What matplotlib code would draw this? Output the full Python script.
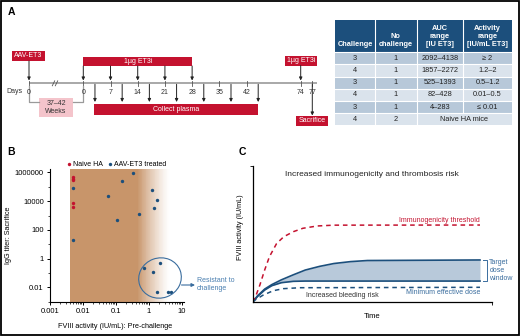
import matplotlib
matplotlib.use('Agg')
import matplotlib.pyplot as plt
import numpy as np
from matplotlib.patches import Rectangle, Ellipse
from matplotlib.ticker import NullFormatter

plt.rcParams['font.family'] = ['Liberation Sans', 'DejaVu Sans']

RED = '#c4122f'
BLUE = '#1c4f7c'
MIDBLUE = '#3a6d9e'
BROWN = '#c8956a'
GRAY = '#9a9a9a'

# ---- panel A: timeline (days) ----
tick_days = [0, 7, 14, 21, 28, 35, 42, 74, 77]
et3i_days = [0, 7, 14, 21, 28]
boost_day = 74
plasma_days = [3, 10, 17, 24, 31, 38, 45]
sacrifice_day = 77

# ---- panel A: table ----
col_heads = ['Challenge', 'No\nchallenge', 'AUC\nrange\n[IU ET3]', 'Activity\nrange\n[IU/mL ET3]']
challenge = ['3', '4', '3', '4', '3', '4']
no_challenge = ['1', '1', '1', '1', '1', '2']
auc_range = ['2092–4138', '1857–2272', '525–1393', '82–428', '4–283']
activity_range = ['≥ 2', '1.2–2', '0.5–1.2', '0.01–0.5', '≤ 0.01']
naive_label = 'Naive HA mice'

# ---- panel B ----
naive_x = [0.005, 0.005, 0.005, 0.005, 0.005]
naive_y = [4.8e5, 3.7e5, 2.8e5, 7.9e3, 4.0e3]
treated_x = [0.005, 0.005, 0.058, 0.15, 0.33, 0.105, 0.51, 1.2, 1.78, 1.45,
             0.71, 2.2, 1.35, 1.7, 3.8, 4.6]
treated_y = [8.8e4, 19, 2.2e4, 2.4e5, 9.1e5, 520, 1.2e3, 5.7e4, 1.3e4, 3.6e3,
             0.23, 0.47, 0.11, 0.005, 0.005, 0.005]

# ---- panel C (schematic curves) ----
thr_t = [0, 0.01, 0.03, 0.05, 0.07, 0.10, 0.13, 0.17, 0.21, 0.27, 0.34, 0.951]
thr_v = [0, 0.03, 0.125, 0.235, 0.333, 0.43, 0.48, 0.517, 0.542, 0.559, 0.565, 0.566]
win_t = [0, 0.02, 0.05, 0.08, 0.12, 0.17, 0.22, 0.28, 0.34, 0.41, 0.48, 0.951]
win_hi = [0, 0.045, 0.095, 0.128, 0.163, 0.2, 0.235, 0.262, 0.283, 0.297, 0.305, 0.309]
win_lo = [0, 0.04, 0.088, 0.12, 0.142, 0.152, 0.154, 0.154, 0.154, 0.154, 0.154, 0.154]
med_t = [0, 0.01, 0.044, 0.086, 0.128, 0.198, 0.951]
med_v = [0, 0.015, 0.051, 0.083, 0.098, 0.105, 0.108]


def day_x(d):
    # schematic timeline: evenly spaced up to day 45, compressed after
    return np.interp(d, [0, 45, 74, 77], [83.3, 258.2, 300.7, 312.3])


fig = plt.figure(figsize=(5.2, 3.36), dpi=100)

# ================= panel B =================
axB = fig.add_axes([50 / 520, 1 - 301.7 / 336, 134 / 520, 132.7 / 336])
axB.set_facecolor('none')
axB.set_xscale('log')
axB.set_yscale('log')
axB.set_xlim(1e-3, 11.5)
axB.set_ylim(1e-3, 1.74e6)
axB.axvspan(0.0041, 0.45, color=BROWN, lw=0, zorder=0)
edges = np.logspace(np.log10(0.45), np.log10(4.3), 41)
for i in range(40):
    t = (i + 0.5) / 40
    axB.axvspan(edges[i], edges[i + 1], color=BROWN, alpha=(1 - t) ** 1.3, lw=0, zorder=0)
axB.scatter(naive_x, naive_y, s=6, color=RED, lw=0, label='Naive HA', zorder=3)
axB.scatter(treated_x, treated_y, s=6, color=BLUE, lw=0, label='AAV-ET3 treated', zorder=3)
for s in ['top', 'right']:
    axB.spines[s].set_visible(False)
for s in ['left', 'bottom']:
    axB.spines[s].set_linewidth(0.8)
axB.set_xticks([1e-3, 1e-2, 1e-1, 1, 10], ['0.001', '0.01', '0.1', '1', '10'])
axB.set_xticks([m * 10.0 ** e for e in range(-3, 1) for m in range(2, 10)], minor=True)
axB.set_yticks([1e-2, 1, 1e2, 1e4, 1e6], ['0.01', '1', '100', '10000', '1000000'])
axB.set_yticks([1e-3, 1e-1, 10, 1e3, 1e5], minor=True)
axB.xaxis.set_minor_formatter(NullFormatter())
axB.yaxis.set_minor_formatter(NullFormatter())
axB.tick_params(which='major', labelsize=5.5, length=2.5, width=0.7, pad=2)
axB.tick_params(which='minor', length=1.5, width=0.5)
axB.set_xlabel('FVIII activity (IU/mL): Pre-challenge', fontsize=5.2)
axB.xaxis.set_label_coords(0.485, -0.16)
axB.set_ylabel('IgG titer: Sacrifice', fontsize=5.2)
axB.yaxis.set_label_coords(-0.284, 0.5)
axB.legend(loc='center left', bbox_to_anchor=(0.13, 1.036), ncol=2, frameon=False,
           fontsize=5, handlelength=0.5, handletextpad=0.3, columnspacing=0.8,
           borderpad=0, borderaxespad=0, scatterpoints=1)

# ================= panel C =================
axC = fig.add_axes([252.7 / 520, 1 - 302 / 336, 239 / 520, 136 / 336])
axC.set_facecolor('none')
axC.set_xlim(0, 1)
axC.set_ylim(0, 1)
axC.fill_between(win_t, win_lo, win_hi, color='#b8c9da', lw=0)
axC.plot(win_t, win_hi, color=BLUE, lw=1.2)
axC.plot(win_t, win_lo, color=BLUE, lw=1.2)
axC.plot(thr_t, thr_v, color=RED, lw=1.1, ls=(0, (3, 2.5)))
axC.plot(med_t, med_v, color=BLUE, lw=1.1, ls=(0, (3, 2.5)))
for s in ['top', 'right']:
    axC.spines[s].set_visible(False)
for s in ['left', 'bottom']:
    axC.spines[s].set_linewidth(0.9)
axC.set_xticks([1.0], [''])
axC.set_yticks([1.0], [''])
axC.tick_params(length=2, width=0.6)
axC.set_xlabel('Time', fontsize=5.5)
axC.xaxis.set_label_coords(0.498, -0.079)
axC.set_ylabel('FVIII activity (IU/mL)', fontsize=5.2)
axC.yaxis.set_label_coords(-0.036, 0.55)
axC.text(0.498, 0.94, 'Increased immunogenicity and thrombosis risk', transform=axC.transAxes,
         ha='center', va='center', fontsize=6, color='#222222')
axC.text(0.951, 0.6, 'Immunogenicity threshold', ha='right', va='center', fontsize=5, color=RED)
axC.text(0.951, 0.07, 'Minimum effective dose', ha='right', va='center', fontsize=5, color=MIDBLUE)
axC.text(0.373, 0.045, 'Increased bleeding risk', ha='center', va='center', fontsize=5, color='#333333')
axC.plot([0.962, 0.980, 0.980, 0.962], [0.309, 0.309, 0.154, 0.154], color=MIDBLUE, lw=0.7, clip_on=False)
axC.text(0.99, 0.232, 'Target\ndose\nwindow', ha='left', va='center', fontsize=5,
         color=MIDBLUE, linespacing=1.15, clip_on=False)

# ================= overlay (panel A + annotations), pixel coords =================
ov = fig.add_axes([0, 0, 1, 1])
ov.set_xlim(0, 520)
ov.set_ylim(336, 0)
ov.axis('off')
ov.set_facecolor('none')
ov.set_zorder(5)

ov.add_patch(Rectangle((0.6, 0.6), 518.8, 334.8, fill=False, ec='black', lw=1.3))

for lab, x, y in [('A', 7.5, 12), ('B', 7.5, 152), ('C', 239, 152)]:
    ov.text(x, y, lab, fontsize=7.5, fontweight='bold', ha='left', va='center')

# timeline
TL = 83.3
ov.plot([29, 316.5], [TL, TL], color=GRAY, lw=1.2, solid_capstyle='butt')
for xb in [53.5, 56.5]:
    ov.plot([xb - 1.2, xb + 1.2], [TL + 2.5, TL - 2.5], color='#555555', lw=0.6)
ov.plot([29, 29], [TL - 2.5, TL + 2.5], color='#555555', lw=0.6)
ov.text(29, 92, '0', ha='center', va='center', fontsize=5, color='#333333')
for d in tick_days:
    x = day_x(d)
    ov.plot([x, x], [TL - 2.5, TL + 2.5], color='#555555', lw=0.6)
    ov.text(x, 92, str(d), ha='center', va='center', fontsize=5, color='#333333')
ov.text(14.5, 91.7, 'Days', ha='center', va='center', fontsize=5, color='#333333')

arrow = dict(arrowstyle='-|>', color='#222222', lw=0.7, mutation_scale=4.5, shrinkA=0, shrinkB=0)


def box(x0, y0, w, h, txt, fc=RED, tc='white'):
    ov.add_patch(Rectangle((x0, y0), w, h, fc=fc, ec='none'))
    ov.text(x0 + w / 2, y0 + h / 2, txt, ha='center', va='center', fontsize=5,
            color=tc, linespacing=1.15)


box(12.3, 50.7, 32.7, 10.3, 'AAV-ET3')
ov.annotate('', xy=(29, TL - 2.8), xytext=(29, 61), arrowprops=arrow)
box(83.3, 56.7, 109, 9.3, '1µg ET3i')
for d in et3i_days:
    ov.annotate('', xy=(day_x(d), TL - 2.8), xytext=(day_x(d), 66), arrowprops=arrow)
box(285, 56, 32, 9.5, '1µg ET3i')
ov.annotate('', xy=(day_x(boost_day), TL - 2.8), xytext=(day_x(boost_day), 65.5), arrowprops=arrow)
for d in plasma_days:
    ov.annotate('', xy=(day_x(d), 102), xytext=(day_x(d), TL + 1), arrowprops=arrow)
box(94.3, 104.3, 163.4, 10.7, 'Collect plasma')
ov.annotate('', xy=(day_x(sacrifice_day), 115.5), xytext=(day_x(sacrifice_day), TL + 1), arrowprops=arrow)
box(296, 116, 32, 10, 'Sacrifice')

ov.plot([29, 29, 39.3], [TL + 3, 101.7, 101.7], color=GRAY, lw=0.9)
ov.plot([72.7, 83.3, 83.3], [101.7, 101.7, TL + 3], color=GRAY, lw=0.9)
box(39.3, 97.7, 33.4, 19, '37–42\nWeeks', fc='#f4c4cb', tc='#333333')

# table
col_x = [335, 375, 416.7, 463.3, 511.7]
row_y = [20, 52.3, 64.3, 76.7, 89, 101, 113.3, 125]
ov.add_patch(Rectangle((col_x[0], row_y[0]), col_x[-1] - col_x[0], row_y[1] - row_y[0], fc=BLUE, ec='none'))
for j, h in enumerate(col_heads):
    ov.text((col_x[j] + col_x[j + 1]) / 2, 47.5, h, ha='center', va='bottom', fontsize=5.3,
            fontweight='bold', color='white', linespacing=1.1)
rows = [[challenge[i], no_challenge[i], auc_range[i], activity_range[i]] for i in range(5)]
for i in range(6):
    y0, y1 = row_y[i + 1], row_y[i + 2]
    fc = '#b7c8d9' if i % 2 == 0 else '#dae3ec'
    ov.add_patch(Rectangle((col_x[0], y0), col_x[-1] - col_x[0], y1 - y0, fc=fc, ec='none'))
    yc = (y0 + y1) / 2
    if i < 5:
        cells = rows[i]
    else:
        cells = [challenge[i], no_challenge[i]]
    for j, c in enumerate(cells):
        ov.text((col_x[j] + col_x[j + 1]) / 2, yc, c, ha='center', va='center', fontsize=5.3, color='#222222')
    if i == 5:
        ov.text((col_x[2] + col_x[4]) / 2, yc, naive_label, ha='center', va='center', fontsize=5.3, color='#222222')
for y in row_y[1:-1]:
    ov.plot([col_x[0], col_x[-1]], [y, y], color='white', lw=0.8)
for j, x in enumerate(col_x[1:-1]):
    top = row_y[0]
    bot = row_y[-1] if j < 2 else row_y[-2]
    ov.plot([x, x], [top, bot], color='white', lw=0.8)

# panel B annotation: resistant group
ov.add_patch(Ellipse((160, 278), 43, 40, angle=-20, fill=False, ec=MIDBLUE, lw=0.8))
ov.annotate('', xy=(195, 285), xytext=(181.5, 285),
            arrowprops=dict(arrowstyle='-|>', color=MIDBLUE, lw=0.8, mutation_scale=5, shrinkA=0, shrinkB=0))
ov.text(197, 284.5, 'Resistant to\nchallenge', ha='left', va='center', fontsize=5,
        color='#4a7fb0', linespacing=1.15)

fig.savefig('out.png', dpi=100)
